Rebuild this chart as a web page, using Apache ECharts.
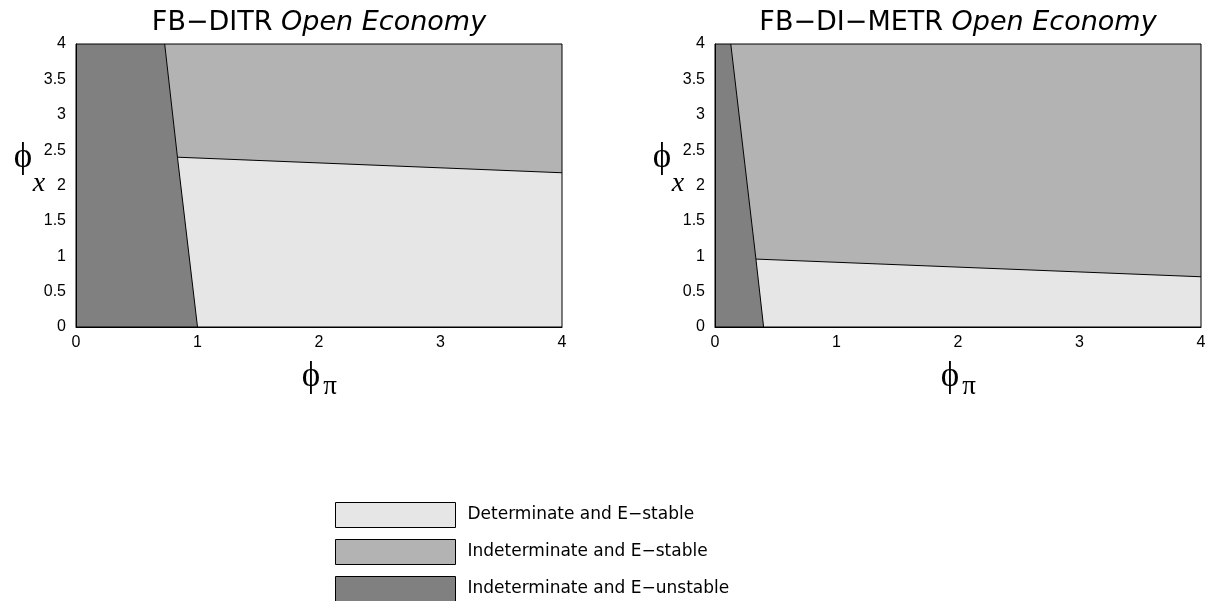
<!DOCTYPE html>
<html>
<head>
<meta charset="utf-8">
<script src="https://cdn.jsdelivr.net/npm/echarts@6/dist/echarts.min.js"></script>
<style>
html,body{margin:0;padding:0;background:#fff;}
#chart{width:1209px;height:601px;}
</style>
</head>
<body>
<div id="chart"></div>
<script>
// ---- data ----
const titles = ['FB\u2212DITR', 'FB\u2212DI\u2212METR'];
const regionNames = ['Determinate and E\u2212stable', 'Indeterminate and E\u2212stable', 'Indeterminate and E\u2212unstable'];
const regionColors = ['#e6e6e6', '#b3b3b3', '#808080'];

// boundary points, panel 1 (FB-DITR): [phi_pi, phi_x]
const ditrTop = [0.73, 4];
const ditrKink = [0.835, 2.40];
const ditrBottom = [1.0, 0];
const ditrRight = [4, 2.18];

// boundary points, panel 2 (FB-DI-METR)
const metrTop = [0.13, 4];
const metrKink = [0.337, 0.96];
const metrBottom = [0.40, 0];
const metrRight = [4, 0.71];

const axisMin = 0, axisMax = 4, xStep = 1, yStep = 0.5;

// ---- build polygons for each panel ----
function panelPolygons(top, kink, bottom, right) {
  return [
    [bottom, [axisMax, axisMin], right, kink],                  // determinate, E-stable
    [kink, right, [axisMax, axisMax], top],                     // indeterminate, E-stable
    [[axisMin, axisMin], bottom, kink, top, [axisMin, axisMax]] // indeterminate, E-unstable
  ];
}
const panels = [
  {polys: panelPolygons(ditrTop, ditrKink, ditrBottom, ditrRight), lines: [[ditrTop, ditrKink, ditrBottom], [ditrKink, ditrRight]]},
  {polys: panelPolygons(metrTop, metrKink, metrBottom, metrRight), lines: [[metrTop, metrKink, metrBottom], [metrKink, metrRight]]}
];

const gridLefts = [76, 715];
const gridTop = 44, gridW = 486, gridH = 283;

const chart = echarts.init(document.getElementById('chart'), null, {renderer: 'canvas'});

const grids = [], xAxes = [], yAxes = [], series = [], titleOpts = [], graphics = [];
const tickFont = {fontFamily: '"Liberation Sans", Arial, sans-serif', fontSize: 16, color: '#000'};

panels.forEach((p, i) => {
  grids.push({left: gridLefts[i], top: gridTop, width: gridW, height: gridH, show: true, z: 10,
    backgroundColor: 'transparent', borderColor: '#000', borderWidth: 1, containLabel: false});
  xAxes.push({gridIndex: i, type: 'value', min: axisMin, max: axisMax, interval: xStep, z: 10,
    axisLine: {show: true, lineStyle: {color: '#000', width: 1}}, axisTick: {show: false},
    splitLine: {show: false}, axisLabel: Object.assign({margin: 8}, tickFont)});
  yAxes.push({gridIndex: i, type: 'value', min: axisMin, max: axisMax, interval: yStep, z: 10,
    axisLine: {show: true, lineStyle: {color: '#000', width: 1}}, axisTick: {show: false},
    splitLine: {show: false}, axisLabel: Object.assign({margin: 10}, tickFont)});

  p.polys.forEach((poly, k) => {
    series.push({
      type: 'custom', name: regionNames[k], xAxisIndex: i, yAxisIndex: i,
      itemStyle: {color: regionColors[k]},
      data: poly, encode: {x: 0, y: 1}, silent: true, z: 2,
      renderItem: function (params, api) {
        if (params.dataIndex !== 0) return null;
        const pts = poly.map(pt => api.coord(pt));
        return {type: 'polygon', shape: {points: pts}, style: {fill: regionColors[k], stroke: null}};
      }
    });
  });
  p.lines.forEach(line => {
    series.push({type: 'line', xAxisIndex: i, yAxisIndex: i, data: line, symbol: 'none', silent: true,
      z: 5, lineStyle: {color: '#000', width: 1}, animation: false});
  });

  const cx = gridLefts[i] + gridW / 2;
  titleOpts.push({
    text: '{n|' + titles[i] + ' }{it|Open Economy}',
    left: cx, top: 9, textAlign: 'center', padding: 0,
    textStyle: {fontWeight: 'normal', rich: {
      n: {fontFamily: '"DejaVu Sans", sans-serif', fontSize: 27, fontWeight: 'normal', color: '#000'},
      it: {fontFamily: '"DejaVu Sans", sans-serif', fontSize: 27, fontWeight: 'normal', fontStyle: 'italic', color: '#000'}
    }}
  });

  const dx = gridLefts[i] - gridLefts[0];
  const serif = '"Liberation Serif", "DejaVu Serif", serif';
  graphics.push(
    {type: 'text', x: 23 + dx, y: 158, style: {text: '\u03D5', fontFamily: serif, fontSize: 35, fill: '#000', align: 'center', verticalAlign: 'middle'}},
    {type: 'text', x: 39 + dx, y: 184, style: {text: 'x', fontFamily: serif, fontStyle: 'italic', fontSize: 28, fill: '#000', align: 'center', verticalAlign: 'middle'}},
    {type: 'text', x: cx - 8, y: 377, style: {text: '\u03D5', fontFamily: serif, fontSize: 35, fill: '#000', align: 'center', verticalAlign: 'middle'}},
    {type: 'text', x: cx + 11, y: 387, style: {text: '\u03C0', fontFamily: serif, fontSize: 27, fill: '#000', align: 'center', verticalAlign: 'middle'}}
  );
});

chart.setOption({
  animation: false,
  backgroundColor: '#fff',
  title: titleOpts,
  grid: grids,
  xAxis: xAxes,
  yAxis: yAxes,
  legend: {
    data: regionNames, orient: 'vertical', left: 335, top: 502, padding: 0, height: 140,
    itemWidth: 120, itemHeight: 25, itemGap: 11, icon: 'rect', selectedMode: false,
    itemStyle: {borderColor: '#000', borderWidth: 1},
    textStyle: {fontFamily: '"DejaVu Sans", sans-serif', fontSize: 17, color: '#000', padding: [0, 0, 0, 7]}
  },
  graphic: graphics,
  series: series
});
</script>
</body>
</html>
